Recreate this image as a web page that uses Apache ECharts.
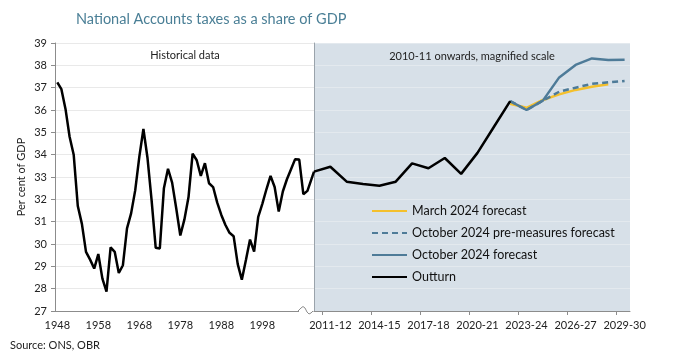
<!DOCTYPE html>
<html><head><meta charset="utf-8">
<script src="https://cdn.jsdelivr.net/npm/echarts@6/dist/echarts.min.js"></script>
<style>html,body{margin:0;padding:0;background:#fff}#c{width:689px;height:360px}</style>
</head><body><div id="c"></div>
<script>
// ---- data ----
const histYears = [];
for (let y = 1948; y <= 2009; y++) histYears.push(y);
const histValues = [
  37.24, 36.93, 36.05, 34.8, 34.0, 31.7, 30.9, 29.65, 29.3, 28.9,
  29.55, 28.45, 27.87, 29.85, 29.65, 28.7, 29.05, 30.7, 31.37, 32.4,
  33.9, 35.15, 33.85, 31.95, 29.83, 29.8, 32.5, 33.37, 32.75, 31.6,
  30.38, 31.1, 32.1, 34.05, 33.75, 33.05, 33.62, 32.72, 32.55, 31.85,
  31.3, 30.85, 30.5, 30.35, 29.1, 28.4, 29.28, 30.2, 29.66, 31.22,
  31.8, 32.45, 33.05, 32.55, 31.45, 32.35, 32.9, 33.35, 33.8, 33.78,
  32.23, 32.38
];
const fiscalYears = ['2010-11','2011-12','2012-13','2013-14','2014-15','2015-16','2016-17','2017-18','2018-19','2019-20',
  '2020-21','2021-22','2022-23','2023-24','2024-25','2025-26','2026-27','2027-28','2028-29','2029-30'];
const outturn = [33.24, 33.46, 32.79, 32.69, 32.61, 32.79, 33.61, 33.39, 33.85, 33.14, 34.08, 35.24, 36.40];
// forecasts start at 2022-23
const march2024 = [36.28, 36.1, 36.45, 36.7, 36.9, 37.04, 37.15];
const oct2024Pre = [36.40, 36.0, 36.42, 36.82, 37.0, 37.17, 37.24, 37.3];
const oct2024 = [36.40, 36.0, 36.42, 37.46, 38.02, 38.31, 38.24, 38.25];
const forecastStart = '2022-23';
const leftTickYears = [1948, 1958, 1968, 1978, 1988, 1998];
const rightTickLabels = ['2011-12','2014-15','2017-18','2020-21','2023-24','2026-27','2029-30'];

// ---- build ----
const FONT = 'Lato';
const leftMin = 1947.44, leftMax = 2010.6;
const f0 = fiscalYears.indexOf(forecastStart);
const toPairs = (arr, start) => arr.map((v, i) => [start + i, v]);
const histData = histYears.map((y, i) => [y, histValues[i]]);
histData.push([leftMax, outturn[0]]); // join to first fiscal-year outturn at the break
const rightLabelIdx = rightTickLabels.map(l => fiscalYears.indexOf(l));

const chart = echarts.init(document.getElementById('c'), null, {renderer: 'canvas'});
chart.setOption({
  animation: false,
  backgroundColor: '#ffffff',
  textStyle: {fontFamily: FONT},
  title: {
    text: 'National Accounts taxes as a share of GDP',
    left: 71, top: 7,
    textStyle: {fontFamily: FONT, fontSize: 14.5, fontWeight: 'normal', color: '#4a7f96'}
  },
  grid: [
    {left: 55, top: 43, width: 259, height: 268},
    {left: 314, top: 43, width: 316, height: 268, show: true, backgroundColor: '#d7e0e8', borderWidth: 0}
  ],
  xAxis: [
    {type: 'value', gridIndex: 0, min: leftMin, max: leftMax,
     axisLine: {show: true, lineStyle: {color: '#8c8c8c', width: 1}},
     axisTick: {show: false}, splitLine: {show: false},
     axisLabel: {customValues: leftTickYears, fontSize: 11, color: '#222', margin: 9, fontFamily: FONT,
       formatter: v => String(Math.round(v))}},
    {type: 'value', gridIndex: 1, min: 0, max: 19.33,
     axisLine: {show: true, lineStyle: {color: '#8c8c8c', width: 1}},
     axisTick: {show: true, customValues: rightLabelIdx.map(i => i - 0.5), length: 4, lineStyle: {color: '#8c8c8c'}},
     splitLine: {show: false},
     axisLabel: {customValues: rightLabelIdx, fontSize: 11, color: '#222', margin: 9, fontFamily: FONT,
       formatter: v => fiscalYears[Math.round(v)] || ''}}
  ],
  yAxis: [
    {type: 'value', gridIndex: 0, min: 27, max: 39, interval: 1,
     name: 'Per cent of GDP', nameLocation: 'middle', nameGap: 28, nameRotate: 90,
     nameTextStyle: {fontSize: 11, color: '#222', fontFamily: FONT},
     axisLine: {show: true, lineStyle: {color: '#8c8c8c'}},
     axisTick: {show: true, length: 4, lineStyle: {color: '#8c8c8c'}},
     axisLabel: {fontSize: 11, color: '#222', margin: 8, fontFamily: FONT},
     splitLine: {show: true, lineStyle: {color: '#e9e9e9', width: 1}}},
    {type: 'value', gridIndex: 1, min: 27, max: 39, interval: 1,
     axisLine: {show: true, lineStyle: {color: '#9aa3ab'}},
     axisTick: {show: false}, axisLabel: {show: false},
     splitLine: {show: true, lineStyle: {color: '#e3e9ee', width: 1}}}
  ],
  legend: {
    orient: 'vertical', left: 366, top: 199.5, itemWidth: 35, itemHeight: 14, itemGap: 9,
    data: ['March 2024 forecast', 'October 2024 pre-measures forecast', 'October 2024 forecast', 'Outturn'],
    itemStyle: {color: 'rgba(0,0,0,0)', borderColor: 'rgba(0,0,0,0)', borderWidth: 0},
    textStyle: {fontSize: 12.5, color: '#111', fontFamily: FONT}
  },
  series: [
    {name: 'March 2024 forecast', type: 'line', xAxisIndex: 1, yAxisIndex: 1, symbol: 'none',
     data: toPairs(march2024, f0), lineStyle: {color: '#f4c02c', width: 2.5}, itemStyle: {color: '#f4c02c'}, z: 2},
    {name: 'October 2024 pre-measures forecast', type: 'line', xAxisIndex: 1, yAxisIndex: 1, symbol: 'none',
     data: toPairs(oct2024Pre, f0), lineStyle: {color: '#4e7b98', width: 2.5, type: [6, 4]}, itemStyle: {color: '#4e7b98'}, z: 3},
    {name: 'October 2024 forecast', type: 'line', xAxisIndex: 1, yAxisIndex: 1, symbol: 'none',
     data: toPairs(oct2024, f0), lineStyle: {color: '#4e7b98', width: 2.5}, itemStyle: {color: '#4e7b98'}, z: 4},
    {name: 'Outturn', type: 'line', xAxisIndex: 1, yAxisIndex: 1, symbol: 'none',
     data: toPairs(outturn, 0), lineStyle: {color: '#000', width: 2.5}, itemStyle: {color: '#000'}, z: 5},
    {name: 'Outturn', type: 'line', xAxisIndex: 0, yAxisIndex: 0, symbol: 'none',
     data: histData, lineStyle: {color: '#000', width: 2.5}, itemStyle: {color: '#000'}, z: 5}
  ],
  graphic: [
    {type: 'text', style: {text: 'Historical data', x: 185, y: 55, align: 'center', verticalAlign: 'middle',
      fontSize: 11, fill: '#222', fontFamily: FONT}},
    {type: 'text', style: {text: '2010-11 onwards, magnified scale', x: 472, y: 56, align: 'center', verticalAlign: 'middle',
      fontSize: 11, fill: '#222', fontFamily: FONT}},
    {type: 'text', style: {text: 'Source: ONS, OBR', x: 10, y: 345, align: 'left', verticalAlign: 'middle',
      fontSize: 11, fill: '#222', fontFamily: FONT}},
    {type: 'rect', shape: {x: 299, y: 309, width: 14.5, height: 4}, style: {fill: '#ffffff'}, z: 100},
    {type: 'polyline', shape: {points: [[298, 311], [301, 308], [303, 306.5], [305, 308], [307, 312], [309, 314], [311, 313], [313, 311]]},
     style: {stroke: '#8c8c8c', lineWidth: 1, fill: null}, z: 101}
  ]
});
</script>
</body></html>
